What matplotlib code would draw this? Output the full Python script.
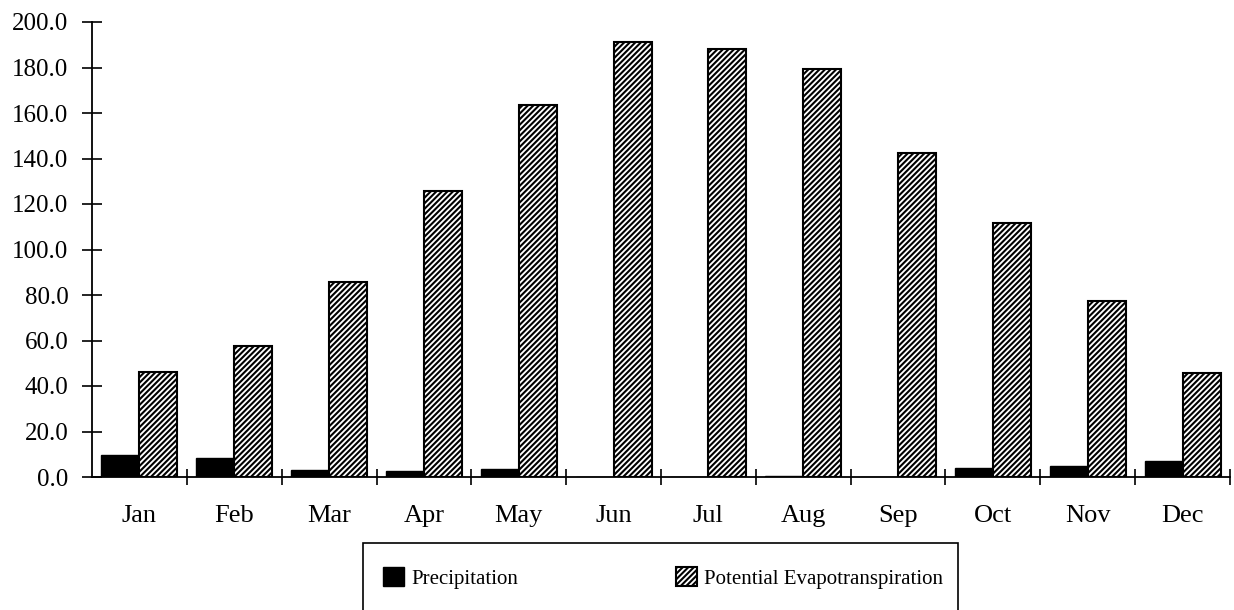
import matplotlib.pyplot as plt
from matplotlib.patches import Rectangle
import numpy as np

months = ["Jan", "Feb", "Mar", "Apr", "May", "Jun",
          "Jul", "Aug", "Sep", "Oct", "Nov", "Dec"]
precipitation = [9.7, 8.5, 3.0, 2.8, 3.3, 0.2, 0.2, 0.5, 0.2, 4.1, 4.7, 7.2]
pet = [46.0, 57.8, 85.8, 125.5, 163.6, 191.0, 188.3, 179.3, 142.2, 111.5, 77.5, 45.8]
yticks = [0, 20, 40, 60, 80, 100, 120, 140, 160, 180, 200]

plt.rcParams['font.family'] = ['Liberation Serif', 'DejaVu Serif']
plt.rcParams['hatch.linewidth'] = 1.5

fig = plt.figure(figsize=(12.34, 6.10), dpi=100)
ax = fig.add_axes([92 / 1234, 1 - 477 / 610, (1230 - 92) / 1234, (477 - 22) / 610])

x = np.arange(len(months))
w = 0.4
ax.bar(x - w / 2, precipitation, w, color="black", edgecolor="black", linewidth=1,
       label="Precipitation")
ax.bar(x + w / 2, pet, w, color="white", edgecolor="black", hatch="//////", linewidth=1.5,
       label="Potential Evapotranspiration")

ax.set_xlim(-0.5, 11.5)
ax.set_ylim(0, 200)
ax.set_yticks(yticks)
ax.set_yticklabels([f"{v:.1f}" for v in yticks], fontsize=18)
ax.set_xticks(x)
ax.set_xticklabels(months, fontsize=19)
ax.set_xticks(x + 0.5, minor=True)
ax.tick_params(axis="x", which="major", length=0, pad=20)
ax.tick_params(axis="x", which="minor", direction="inout", length=12, width=1.2)
ax.tick_params(axis="y", direction="inout", length=14, width=1.2, pad=10)

for s in ["top", "right"]:
    ax.spines[s].set_visible(False)
for s in ["left", "bottom"]:
    ax.spines[s].set_linewidth(1.3)

# legend box, running off the bottom of the figure
fig.patches.append(Rectangle((363 / 1234, -0.05), (958 - 363) / 1234, 0.05 + 1 - 543 / 610,
                             transform=fig.transFigure, fill=False, edgecolor="black",
                             linewidth=1.2))
fig.legend(loc="center left", bbox_to_anchor=(383 / 1234, 1 - 578 / 610), ncol=2,
           frameon=False, fontsize=15, handlelength=1.0, handleheight=1.0,
           columnspacing=7.6, handletextpad=0.35, borderpad=0, borderaxespad=0)

fig.savefig("out.png", dpi=100)
